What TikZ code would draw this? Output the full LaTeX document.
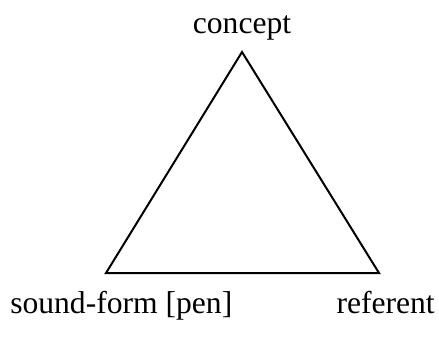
\documentclass[tikz,border=0pt]{standalone}
\usepackage{fontspec}
\setmainfont{Liberation Serif}
\begin{document}
\begin{tikzpicture}[
    x=0.75pt,
    y=-0.75pt,
    word/.style={
        font=\fontsize{23.7}{28}\selectfont,
        anchor=base,
        inner sep=0pt
    },
    side/.style={
        line width=1.5pt,
        line join=miter
    }
]
\useasboundingbox (0,0) rectangle (439,336);

% Corners
\coordinate (top) at (242,52);
\coordinate (left) at (106,273);
\coordinate (right) at (379,273);

% Labels
\node [word] (concept) at (242,33) {concept};
\node [word, anchor=base west] (sound) at (10,313) {sound-form [pen]};
\node [word, anchor=base east] (referent) at (435,313) {referent};

% Triangle
\draw [side] (top) -- (left) -- (right) -- cycle;

\end{tikzpicture}
\end{document}
